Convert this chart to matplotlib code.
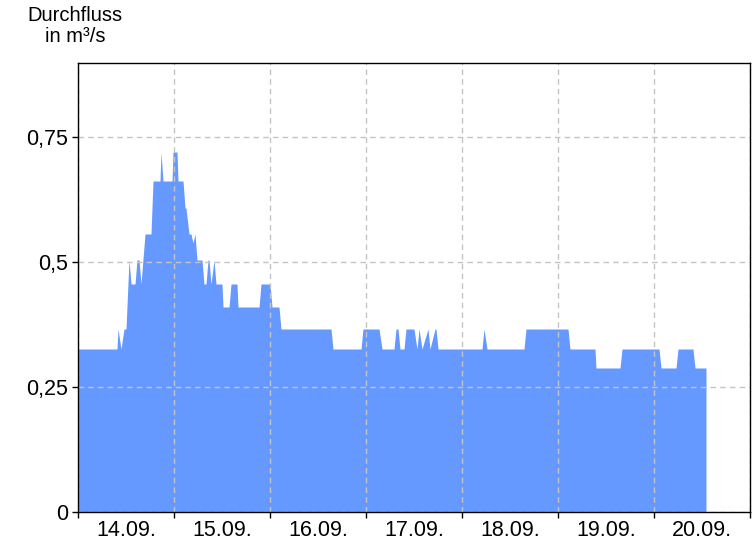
import pandas as pd
import matplotlib
matplotlib.use("Agg")
import matplotlib.pyplot as plt
import matplotlib.dates as mdates

# Durchfluss, hours since 14.09. 00:00 and value in m3/s
hours = [0, 9.75, 10.0, 10.75, 11.5, 12.0, 12.75, 13.25, 14.25, 14.75,
         15.25, 15.75, 16.75, 18.25, 18.75, 20.5, 20.75, 21.25, 23.5, 23.75,
         24.75, 25.0, 26.25, 26.75, 27.0, 27.75, 28.25, 28.75, 29.25, 29.75,
         31.0, 31.5, 32.0, 32.5, 32.75, 33.25, 34.0, 34.5, 36.0, 36.25,
         37.75, 38.25, 39.75, 40.0, 45.25, 45.75, 48.0, 48.5, 50.25, 50.75,
         63.25, 63.75, 70.75, 71.25, 75.25, 76.0, 79.0, 79.5, 80.0, 80.5,
         81.5, 82.0, 84.0, 84.75, 85.25, 86.0, 87.5, 88.0, 89.25, 89.5,
         90.0, 101.0, 101.5, 102.25, 111.5, 112.0, 122.5, 123.0, 129.25, 129.5,
         135.5, 136.0, 145.25, 145.75, 149.5, 150.0, 153.75, 154.25, 157.0]
flow = [0.326, 0.326, 0.366, 0.326, 0.366, 0.366, 0.504, 0.456, 0.456, 0.504,
        0.504, 0.456, 0.556, 0.556, 0.662, 0.662, 0.72, 0.662, 0.662, 0.72,
        0.72, 0.662, 0.662, 0.608, 0.608, 0.556, 0.556, 0.538, 0.556, 0.504,
        0.504, 0.456, 0.456, 0.504, 0.504, 0.456, 0.504, 0.456, 0.456, 0.41,
        0.41, 0.456, 0.456, 0.41, 0.41, 0.456, 0.456, 0.41, 0.41, 0.366,
        0.366, 0.326, 0.326, 0.366, 0.366, 0.326, 0.326, 0.366, 0.366, 0.326,
        0.326, 0.366, 0.366, 0.326, 0.366, 0.326, 0.366, 0.326, 0.366, 0.366,
        0.326, 0.326, 0.366, 0.326, 0.326, 0.366, 0.366, 0.326, 0.326, 0.288,
        0.288, 0.326, 0.326, 0.288, 0.288, 0.326, 0.326, 0.288, 0.288]

yticks = [0, 0.25, 0.5, 0.75]
ytick_labels = ["0", "0,25", "0,5", "0,75"]

start = pd.Timestamp("2023-09-14 00:00")
end = pd.Timestamp("2023-09-21 00:00")
times = start + pd.to_timedelta(hours, unit="h")

plt.rcParams["font.family"] = ["Liberation Sans", "DejaVu Sans"]

fig = plt.figure(figsize=(7.56, 5.46), dpi=100)
ax = fig.add_axes([78 / 756, 34 / 546, 672 / 756, 449 / 546])

ax.fill_between(times, flow, 0, color="#6699ff", lw=0)

ax.set_xlim(start, end)
ax.set_ylim(0, 0.898)

ax.xaxis.set_major_locator(mdates.DayLocator())
ax.xaxis.set_major_formatter(plt.NullFormatter())
ax.xaxis.set_minor_locator(mdates.HourLocator(byhour=[12]))
ax.xaxis.set_minor_formatter(mdates.DateFormatter("%d.%m."))
ax.tick_params(axis="x", which="minor", length=0, labelsize=15.5, pad=6)
ax.tick_params(axis="x", which="major", length=4, width=1)

ax.set_yticks(yticks)
ax.set_yticklabels(ytick_labels)
ax.tick_params(axis="y", length=4, width=1, labelsize=15.5, pad=3)

ax.grid(True, which="major", color="#c4c4c4", ls=(0, (4, 3)), lw=1)

for s in ax.spines.values():
    s.set_linewidth(1)
    s.set_color("black")

fig.text(75 / 756, 1 - 6 / 546, "Durchfluss\nin m³/s", ha="center", va="top",
         fontsize=14.5, linespacing=1.1)

fig.savefig("out.png", dpi=100)
